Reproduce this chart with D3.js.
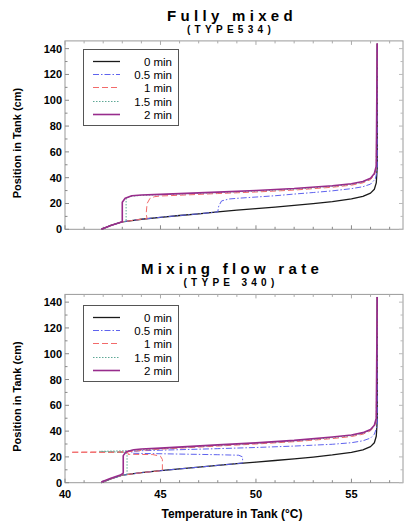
<!DOCTYPE html>
<html>
<head>
<meta charset="utf-8">
<script src="https://cdn.jsdelivr.net/npm/d3@7"></script>
<style>
  html, body { margin: 0; padding: 0; background: #fff; }
  svg { display: block; font-family: "Liberation Sans", Arial, sans-serif; }
</style>
</head>
<body>
<svg id="chart" width="405" height="522"></svg>
<script>
'use strict';

// legend / ticks
const legendLabels = ["0 min", "0.5 min", "1 min", "1.5 min", "2 min"];
const xTickLabels = [40, 45, 50, 55];
const yTickLabels = [0, 20, 40, 60, 80, 100, 120, 140];

// [temperature °C, position cm]
const initial0 = [[41.9, 0], [42.4, 3], [43.0, 5.8], [43.5, 6.8], [44, 7.8], [45, 9.3], [46, 10.7], [47, 12],
  [48, 13.5], [49, 14.8], [50, 16], [51, 17.2], [52, 18.5], [53, 19.9], [54, 21.5], [55, 23.5], [55.6, 25.5],
  [56.0, 28], [56.2, 31], [56.3, 36], [56.35, 48], [56.35, 144]];

// Fully mixed (TYPE534)
const fully05 = [[41.9, 0], [42.4, 3], [43.0, 5.8], [44, 7.8], [45, 9.3], [46, 10.7], [47, 12], [48, 13.5],
  [48.05, 18], [48.2, 22], [48.6, 23.5], [49, 24], [50, 25], [51, 26], [52, 27.3], [53, 28.5], [54, 29.8],
  [55, 31.5], [55.6, 33], [56.0, 35], [56.25, 39], [56.35, 46], [56.35, 144]];
const fully1 = [[41.9, 0], [42.4, 3], [43.0, 5.8], [44, 7.8], [44.3, 8.2], [44.25, 12], [44.3, 20], [44.45, 24],
  [44.7, 25.3], [45, 25.8], [46, 26.4], [48, 27.7], [50, 28.9], [52, 30.4], [54, 32.6], [55, 34.2], [55.6, 36],
  [56, 38.5], [56.2, 42], [56.3, 47], [56.35, 144]];
const fully15 = [[41.9, 0], [42.4, 3], [43.0, 5.8], [43.2, 6.2], [43.2, 23.5], [43.4, 25.5], [44, 26.3],
  [45, 26.8], [48, 28.4], [50, 29.6], [52, 31.1], [54, 33.3], [55, 34.8], [55.6, 36.6], [56.0, 39.2],
  [56.2, 42.8], [56.3, 48], [56.35, 144]];
const fully2 = [[41.9, 0], [42.4, 3], [43.0, 5.8], [43.0, 21], [43.15, 24], [43.5, 26], [44, 26.6], [45, 27.1],
  [48, 28.8], [50, 30.1], [52, 31.6], [54, 33.8], [55, 35.3], [55.6, 37], [56.0, 39.6], [56.2, 43.2],
  [56.3, 49], [56.35, 144]];

// Mixing flow rate (TYPE 340)
const mixing05 = [[41.9, 0], [42.4, 3], [43.0, 5.8], [44, 7.8], [45, 9.3], [46, 10.7], [47, 12], [48, 13.5],
  [49, 14.8], [49.3, 15.3], [49.3, 20], [49.1, 21.3], [48, 21.7], [46, 22.2], [44, 22.7], [43.5, 22.8],
  [43.5, 24.3], [44, 24.8], [46, 25.6], [48, 26.4], [50, 27.3], [52, 28.4], [54, 29.8], [55, 31],
  [55.6, 32.5], [56, 34.6], [56.2, 37.6], [56.35, 44], [56.35, 144]];
const mixing1 = [[41.9, 0], [42.4, 3], [43.0, 5.8], [44, 7.8], [45.1, 9.4], [45.1, 18], [45.0, 20.5],
  [44.6, 21.8], [43.3, 22], [43.3, 23.4], [40.3, 23.6], [43.6, 24.2], [44, 25.1], [45, 26], [48, 28.4],
  [50, 30], [52, 31.8], [54, 34.2], [55, 35.8], [55.6, 37.6], [56, 40.2], [56.2, 43.6], [56.3, 48],
  [56.35, 144]];
const mixing15 = [[41.9, 0], [42.4, 3], [43.0, 5.8], [43.25, 6.3], [43.25, 21.5], [43.2, 23.5], [41.8, 24.3],
  [43.3, 24.8], [44, 25.6], [45, 26.4], [48, 28.9], [50, 30.5], [52, 32.3], [54, 34.9], [55, 36.5],
  [55.6, 38.2], [56, 40.8], [56.2, 44.2], [56.3, 49], [56.35, 144]];
const mixing2 = [[41.9, 0.6], [42.4, 3.4], [42.9, 5.9], [43.05, 7.5], [43.05, 21], [43.2, 24], [43.6, 25.6],
  [44, 26.1], [45, 26.8], [48, 29.3], [50, 30.9], [52, 32.8], [54, 35.4], [55, 37], [55.6, 38.8],
  [56, 41.3], [56.2, 44.6], [56.3, 50], [56.35, 144]];

const seriesStyle = [
  { color: "#1a1a1a", width: 1.3, dash: null },
  { color: "#5f63ee", width: 1, dash: "6,2,1.5,2" },
  { color: "#f26a6a", width: 1, dash: "6,3" },
  { color: "#5fa896", width: 1, dash: "1.5,1.5" },
  { color: "#982c8c", width: 1.6, dash: null }
];

const panels = [
  { title: "Fully mixed", sub: "(TYPE534)", top: 40.9, bottom: 229.3, legendTop: 49,
    series: [initial0, fully05, fully1, fully15, fully2], xLabels: false },
  { title: "Mixing flow rate", sub: "(TYPE 340)", top: 294.4, bottom: 482.7, legendTop: 305,
    series: [initial0, mixing05, mixing1, mixing15, mixing2], xLabels: true }
];
const legendRow = 13.2;

const svg = d3.select("#chart");
const left = 65, right = 403;
const x = d3.scaleLinear().domain([40, 57.7]).range([left, right]);

panels.forEach(p => {
  const y = d3.scaleLinear().domain([0, 146]).range([p.bottom, p.top]);
  const g = svg.append("g");

  // titles
  g.append("text")
    .attr("x", 232).attr("y", p.top - 20)
    .attr("text-anchor", "middle")
    .style("font-size", "15px").style("font-weight", "bold").style("letter-spacing", "4.3px")
    .text(p.title);
  g.append("text")
    .attr("x", 231).attr("y", p.top - 8)
    .attr("text-anchor", "middle")
    .style("font-size", "10px").style("font-weight", "bold").style("letter-spacing", "4.3px")
    .text(p.sub);

  // frame
  g.append("rect")
    .attr("x", left).attr("y", p.top)
    .attr("width", right - left).attr("height", p.bottom - p.top)
    .attr("fill", "none").attr("stroke", "#9a9a9a").attr("stroke-width", 1);

  // inner ticks on all sides
  const xt = d3.range(40, 58, 1);
  const yt = d3.range(0, 146, 10);
  g.append("g").selectAll("line").data(xt).join("line")
    .attr("x1", d => x(d)).attr("x2", d => x(d))
    .attr("y1", p.bottom).attr("y2", d => p.bottom - (d % 5 === 0 ? 4 : 2.5))
    .attr("stroke", "#888");
  g.append("g").selectAll("line").data(xt).join("line")
    .attr("x1", d => x(d)).attr("x2", d => x(d))
    .attr("y1", p.top).attr("y2", d => p.top + (d % 5 === 0 ? 4 : 2.5))
    .attr("stroke", "#aaa");
  g.append("g").selectAll("line").data(yt).join("line")
    .attr("x1", left).attr("x2", d => left + (d % 20 === 0 ? 4 : 2.5))
    .attr("y1", d => y(d)).attr("y2", d => y(d))
    .attr("stroke", "#888");
  g.append("g").selectAll("line").data(yt).join("line")
    .attr("x1", right).attr("x2", d => right - (d % 20 === 0 ? 4 : 2.5))
    .attr("y1", d => y(d)).attr("y2", d => y(d))
    .attr("stroke", "#bbb");

  // y tick labels
  g.append("g").selectAll("text").data(yTickLabels).join("text")
    .attr("x", left - 3).attr("y", d => y(d) + 4)
    .attr("text-anchor", "end")
    .style("font-size", "11px").style("font-weight", "bold")
    .text(d => d);

  if (p.xLabels) {
    g.append("g").selectAll("text").data(xTickLabels).join("text")
      .attr("x", d => x(d)).attr("y", p.bottom + 15)
      .attr("text-anchor", "middle")
      .style("font-size", "11px").style("font-weight", "bold")
      .text(d => d);
    g.append("text")
      .attr("x", 232).attr("y", p.bottom + 35)
      .attr("text-anchor", "middle")
      .style("font-size", "12px").style("font-weight", "bold")
      .text("Temperature in Tank (°C)");
  }

  // y label
  const yMid = (p.top + p.bottom) / 2 + 8;
  g.append("text")
    .attr("transform", `translate(21, ${yMid}) rotate(-90)`)
    .attr("text-anchor", "middle")
    .style("font-size", "11px").style("font-weight", "bold")
    .text("Position in Tank (cm)");

  // profiles
  const line = d3.line().x(d => x(d[0])).y(d => y(d[1]));
  p.series.forEach((s, i) => {
    const st = seriesStyle[i];
    g.append("path")
      .attr("d", line(s))
      .attr("fill", "none")
      .attr("stroke", st.color)
      .attr("stroke-width", st.width)
      .attr("stroke-dasharray", st.dash)
      .attr("stroke-linejoin", "round");
  });

  // legend
  const lg = g.append("g");
  lg.append("rect")
    .attr("x", 83.5).attr("y", p.legendTop + 0.5)
    .attr("width", 95).attr("height", Math.round(legendRow * 5 + 10))
    .attr("fill", "#fff").attr("stroke", "#555").attr("stroke-width", 1);
  legendLabels.forEach((lab, i) => {
    const st = seriesStyle[i];
    const cy = Math.round(p.legendTop + 12 + i * legendRow) + 0.5;
    lg.append("line")
      .attr("x1", 93).attr("x2", 120).attr("y1", cy).attr("y2", cy)
      .attr("stroke", st.color).attr("stroke-width", st.width)
      .attr("stroke-dasharray", st.dash);
    lg.append("text")
      .attr("x", 172).attr("y", cy + 4.2)
      .attr("text-anchor", "end")
      .style("font-size", "11.5px")
      .text(lab);
  });
});
</script>
</body>
</html>
